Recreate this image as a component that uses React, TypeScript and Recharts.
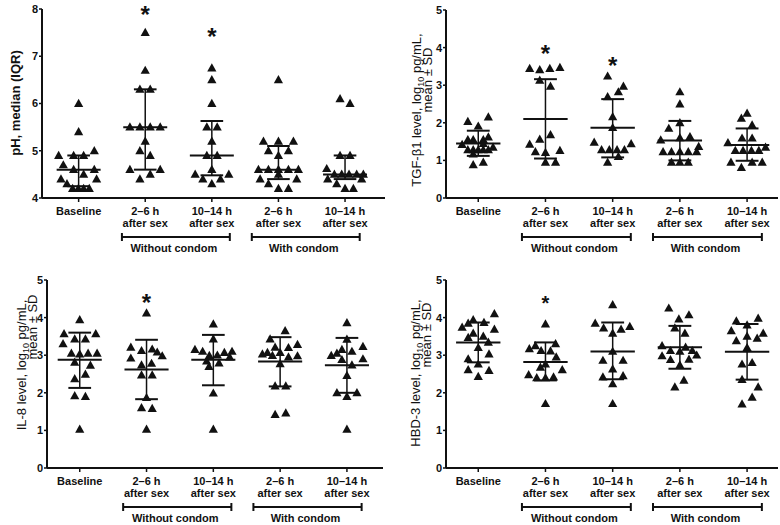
import React from "react";
import {
	ScatterChart,
	Scatter,
	XAxis,
	YAxis,
	ReferenceLine,
	ReferenceDot,
} from "recharts";

type Pt = [number, number]; // [offset inside group, value]
type Summary = [number, number, number]; // centre, low, high

const groupNames = ["Baseline", "2–6 h", "10–14 h", "2–6 h", "10–14 h"];
const groupSub = ["", "after sex", "after sex", "after sex", "after sex"];
const conditionNames = ["Without condom", "With condom"];

// ---- pH, median (IQR)
const phBaseline: Pt[] = [
	[0, 6.0], [0, 5.4], [-0.3, 4.9], [-0.075, 4.9], [0.075, 4.9], [0.235, 5.0],
	[-0.23, 4.7], [-0.075, 4.6], [0.235, 4.6], [0.075, 4.5], [-0.265, 4.4], [0.27, 4.4],
	[-0.175, 4.3], [-0.09, 4.2], [-0.005, 4.2], [0.075, 4.2], [0.16, 4.2],
];
const phNoCondom26: Pt[] = [
	[0, 7.5], [0, 6.7], [-0.08, 6.3], [0.075, 6.3], [-0.23, 5.5], [-0.08, 5.5],
	[0.075, 5.5], [0.225, 5.5], [0, 5.2], [-0.08, 5.0], [0.075, 4.9], [-0.23, 4.6],
	[0.225, 4.6], [0.075, 4.5], [-0.08, 4.4],
];
const phNoCondom1014: Pt[] = [
	[0, 6.75], [0, 6.5], [0, 6.0], [-0.075, 5.5], [0.08, 5.5], [0, 5.2], [-0.075, 4.9],
	[0.08, 4.9], [0, 4.6], [-0.25, 4.5], [0.255, 4.5], [-0.135, 4.4], [0.13, 4.4], [0, 4.3],
];
const phCondom26: Pt[] = [
	[0, 6.5], [-0.225, 5.2], [0, 5.2], [0.225, 5.2], [-0.15, 5.0], [0.15, 5.0], [0, 4.9],
	[-0.3, 4.6], [-0.15, 4.6], [0, 4.6], [0.15, 4.6], [0.3, 4.6], [0, 4.5], [-0.275, 4.4],
	[0.275, 4.4], [-0.15, 4.3], [0, 4.2], [0.15, 4.2],
];
const phCondom1014: Pt[] = [
	[-0.075, 6.1], [0.075, 6.0], [-0.075, 4.9], [0.075, 4.9], [-0.275, 4.62], [-0.16, 4.5],
	[-0.05, 4.5], [0.06, 4.5], [0.175, 4.5], [0.275, 4.5], [-0.26, 4.4], [0.25, 4.4],
	[-0.125, 4.3], [0, 4.2], [0.125, 4.2],
];
const phSummary: Summary[] = [[4.6, 4.25, 4.9], [5.5, 4.6, 6.3], [4.9, 4.48, 5.63], [4.6, 4.4, 5.1], [4.5, 4.4, 4.9]];
const phStars: Pt[] = [[1, 8.0], [2, 7.52]];

// ---- TGF-β1
const tgfBaseline: Pt[] = [
	[0.15, 2.15], [-0.155, 2.03], [0, 1.91], [0.15, 1.62], [-0.155, 1.55], [-0.075, 1.55],
	[0.075, 1.55], [-0.24, 1.42], [0.075, 1.45], [0.22, 1.35], [-0.155, 1.28], [-0.075, 1.28],
	[0, 1.28], [0.075, 1.28], [0.15, 1.28], [-0.075, 1.17], [0.075, 0.95], [-0.075, 0.88],
];
const tgfNoCondom26: Pt[] = [
	[-0.235, 3.44], [-0.085, 3.41], [0.065, 3.44], [0.215, 3.47], [-0.085, 3.13], [0.075, 2.97],
	[0.075, 1.68], [-0.085, 1.56], [-0.235, 1.43], [-0.15, 1.23], [0, 1.21], [0.215, 1.26],
	[0, 0.95], [0.15, 0.95],
];
const tgfNoCondom1014: Pt[] = [
	[-0.075, 3.24], [0.16, 2.97], [0.085, 2.82], [-0.075, 2.69], [0, 2.16], [0, 1.87],
	[-0.275, 1.48], [0.275, 1.44], [-0.165, 1.28], [-0.05, 1.28], [0.065, 1.28], [0.175, 1.28],
	[0.085, 1.1], [-0.075, 0.95],
];
const tgfCondom26: Pt[] = [
	[0, 2.82], [0, 2.5], [0, 2.0], [-0.165, 1.85], [0.15, 1.63], [0, 1.6], [-0.285, 1.54],
	[0.28, 1.37], [-0.25, 1.23], [-0.125, 1.23], [0, 1.23], [0.125, 1.23], [0.25, 1.23],
	[-0.125, 0.95], [0, 0.95], [0.125, 0.95],
];
const tgfCondom1014: Pt[] = [
	[0, 2.25], [-0.085, 2.12], [0.075, 1.94], [-0.075, 1.59], [0.075, 1.59], [-0.285, 1.47],
	[0.275, 1.35], [-0.175, 1.26], [-0.06, 1.26], [0.065, 1.26], [0.175, 1.26], [-0.24, 0.95],
	[0.075, 0.95], [0.225, 0.95], [-0.085, 0.81],
];
const tgfSummary: Summary[] = [[1.45, 1.12, 1.79], [2.1, 1.05, 3.16], [1.87, 1.08, 2.63], [1.53, 1.0, 2.05], [1.41, 0.99, 1.85]];
const tgfStars: Pt[] = [[1, 3.98], [2, 3.67]];

// ---- IL-8
const il8Baseline: Pt[] = [
	[0, 3.94], [-0.235, 3.57], [0.24, 3.57], [-0.075, 3.43], [0.085, 3.43], [-0.25, 3.3],
	[-0.125, 3.05], [0, 3.03], [0.125, 3.05], [0.26, 3.05], [-0.075, 2.81], [0.16, 2.73],
	[0.085, 2.49], [-0.075, 2.37], [-0.075, 1.92], [0.085, 1.9], [0, 1.03],
];
const il8NoCondom26: Pt[] = [
	[0, 4.12], [-0.235, 3.21], [-0.075, 3.12], [0.085, 3.16], [0.16, 3.08], [0.235, 2.98],
	[-0.235, 2.92], [0.075, 2.78], [-0.075, 2.74], [-0.075, 2.47], [0.085, 2.47], [0, 1.87],
	[-0.075, 1.6], [0.085, 1.58], [0, 1.03],
];
const il8NoCondom1014: Pt[] = [
	[0, 3.83], [0, 3.43], [-0.275, 3.15], [-0.16, 3.1], [-0.06, 2.99], [0.06, 3.0],
	[0.165, 3.07], [0.28, 3.1], [0.245, 2.95], [-0.1, 2.84], [-0.065, 2.7], [0.085, 2.79],
	[0, 1.99], [0, 1.03],
];
const il8Condom26: Pt[] = [
	[0.075, 3.65], [-0.15, 3.43], [-0.075, 3.21], [0.125, 3.2], [0.26, 3.28], [-0.265, 3.03],
	[-0.19, 3.07], [-0.115, 2.99], [0, 3.07], [0.125, 2.95], [0.26, 2.98], [0, 2.77],
	[-0.075, 2.18], [0.085, 2.18], [-0.075, 1.42], [0.085, 1.46],
];
const il8Condom1014: Pt[] = [
	[0, 3.86], [0, 3.42], [-0.235, 2.99], [-0.15, 3.05], [-0.075, 3.15], [0.075, 3.1],
	[0.24, 3.23], [-0.075, 2.88], [0.24, 2.9], [0.075, 2.74], [0, 2.46], [-0.15, 2.0],
	[0.15, 2.0], [0, 1.9], [0, 1.03],
];
const il8Summary: Summary[] = [[2.88, 2.13, 3.6], [2.62, 1.83, 3.41], [2.88, 2.2, 3.54], [2.83, 2.17, 3.48], [2.73, 2.0, 3.46]];
const il8Stars: Pt[] = [[1, 4.53]];

// ---- HBD-3
const hbdBaseline: Pt[] = [
	[0.24, 4.1], [-0.075, 3.94], [0.085, 3.87], [-0.15, 3.85], [-0.24, 3.74], [0.24, 3.69],
	[-0.075, 3.58], [-0.15, 3.47], [0.075, 3.5], [0.15, 3.34], [0, 3.2], [0.16, 3.03],
	[-0.15, 2.9], [0, 2.76], [-0.15, 2.61], [0.16, 2.59], [0, 2.43],
];
const hbdNoCondom26: Pt[] = [
	[0, 3.83], [0.15, 3.3], [-0.15, 3.25], [-0.24, 3.17], [-0.065, 3.12], [0.075, 3.11],
	[0.16, 2.95], [0, 2.76], [-0.075, 2.68], [0.25, 2.61], [-0.25, 2.48], [-0.13, 2.4],
	[0, 2.4], [0.12, 2.42], [0, 1.71],
];
const hbdNoCondom1014: Pt[] = [
	[0, 4.34], [-0.26, 3.85], [0.255, 3.76], [-0.135, 3.72], [0.125, 3.69], [0, 3.58],
	[0, 3.1], [-0.145, 2.86], [0.155, 2.86], [0, 2.63], [-0.145, 2.42], [0.155, 2.45],
	[0, 2.24], [0, 1.71],
];
const hbdCondom26: Pt[] = [
	[-0.165, 4.25], [0.135, 4.07], [-0.015, 3.96], [-0.075, 3.72], [0.075, 3.58], [-0.265, 3.25],
	[0.085, 3.21], [-0.14, 3.12], [0, 3.1], [0.185, 3.12], [-0.265, 2.98], [0.25, 3.0],
	[-0.14, 2.88], [0.135, 2.89], [0, 2.74], [0.06, 2.33], [-0.075, 2.15],
];
const hbdCondom1014: Pt[] = [
	[0.165, 3.98], [-0.16, 3.91], [0, 3.8], [-0.235, 3.65], [0.24, 3.58], [0, 3.5],
	[0.15, 3.45], [-0.16, 3.38], [0, 3.2], [-0.075, 2.76], [0.075, 2.8], [-0.075, 2.35],
	[0.165, 2.15], [0.075, 1.88], [-0.075, 1.7],
];
const hbdSummary: Summary[] = [[3.34, 2.81, 3.87], [2.82, 2.33, 3.34], [3.1, 2.36, 3.87], [3.21, 2.64, 3.78], [3.09, 2.35, 3.83]];
const hbdStars: Pt[] = [[1, 4.51]];

const INK = "#111";
const FONT = "'Liberation Sans', Arial, sans-serif";

// small filled triangle, about 9px wide
const Triangle = (props: any) => {
	const { cx, cy } = props;
	if (cx == null || cy == null) return <g />;
	return (
		<path
			d={`M${cx},${cy - 4.8} L${cx + 4.6},${cy + 3.4} L${cx - 4.6},${cy + 3.4} Z`}
			fill={INK}
		/>
	);
};

const XTick = (props: any) => {
	const { x, y, payload } = props;
	const i = Math.round(payload.value);
	return (
		<g>
			<text x={x} y={y + 11} textAnchor="middle" fontSize={11} fontWeight="bold" fill={INK}>
				{groupNames[i]}
			</text>
			{groupSub[i] && (
				<text x={x} y={y + 23} textAnchor="middle" fontSize={11} fontWeight="bold" fill={INK}>
					{groupSub[i]}
				</text>
			)}
		</g>
	);
};

type LabelLine = { x: number; y: number; content: React.ReactNode; bold?: boolean };

const YLabel = ({ lines }: { lines: LabelLine[] }) => (
	<g>
		{lines.map((l, k) => (
			<text
				key={k}
				x={l.x}
				y={l.y + 4.5}
				transform={`rotate(-90 ${l.x} ${l.y})`}
				textAnchor="middle"
				fontSize={13}
				fontWeight={l.bold ? "bold" : "normal"}
				fill={INK}
			>
				{l.content}
			</text>
		))}
	</g>
);

const logLine = (name: string) => (
	<>
		{name} level, log
		<tspan dy={3} fontSize={9}>10</tspan>
		<tspan dy={-3}> pg/mL,</tspan>
	</>
);

interface PanelProps {
	left: number;
	top: number;
	width: number;
	height: number;
	yAxisWidth: number;
	marginTop: number;
	marginRight: number;
	marginBottom: number;
	xDomain: [number, number];
	yDomain: [number, number];
	yTicks: number[];
	groups: Pt[][];
	summary: Summary[];
	stars: Pt[];
	starSize: number;
	label: LabelLine[];
}

const Panel: React.FC<PanelProps> = (p) => {
	const xAxisH = 30;
	const plotH = p.height - p.marginTop - p.marginBottom - xAxisH;
	const [y0, y1] = p.yDomain;
	const perPx = (y1 - y0) / plotH;
	const points = p.groups.flatMap((g, i) => g.map(([dx, v]) => ({ x: i + dx, y: v })));
	const yBracket = y0 - 39 * perPx;
	const yText = y0 - 50 * perPx;
	const capH = 4 * perPx;
	const spans: [number, number][] = [[0.65, 2.27], [2.6, 4.22]];
	const seg = (x1: number, ya: number, x2: number, yb: number, w: number, key: string) => (
		<ReferenceLine
			key={key}
			segment={[{ x: x1, y: ya }, { x: x2, y: yb }]}
			stroke={INK}
			strokeWidth={w}
			ifOverflow="visible"
		/>
	);
	return (
		<div style={{ position: "absolute", left: p.left, top: p.top }}>
			<ScatterChart
				width={p.width}
				height={p.height}
				margin={{ top: p.marginTop, right: p.marginRight, bottom: p.marginBottom, left: 0 }}
			>
				<XAxis
					type="number"
					dataKey="x"
					domain={p.xDomain}
					ticks={[0, 1, 2, 3, 4]}
					height={xAxisH}
					tick={<XTick />}
					tickSize={4}
					axisLine={{ stroke: INK, strokeWidth: 2 }}
					tickLine={{ stroke: INK, strokeWidth: 1.5 }}
				/>
				<YAxis
					type="number"
					dataKey="y"
					domain={p.yDomain}
					ticks={p.yTicks}
					width={p.yAxisWidth}
					tickSize={3}
					tickMargin={1}
					axisLine={{ stroke: INK, strokeWidth: 2 }}
					tickLine={{ stroke: INK, strokeWidth: 1.5 }}
					tick={{ fill: INK, fontSize: 11, fontWeight: "bold" }}
					label={<YLabel lines={p.label} />}
				/>
				{p.summary.map(([c, lo, hi], i) => [
					seg(i - 0.33, c, i + 0.33, c, 2, `c${i}`),
					seg(i, lo, i, hi, 1.5, `v${i}`),
					seg(i - 0.17, lo, i + 0.17, lo, 2, `l${i}`),
					seg(i - 0.17, hi, i + 0.17, hi, 2, `h${i}`),
				])}
				<Scatter data={points} shape={<Triangle />} isAnimationActive={false} />
				{p.stars.map(([i, v], k) => (
					<ReferenceDot
						key={`s${k}`}
						x={i}
						y={v}
						r={0}
						ifOverflow="visible"
						shape={(sp: any) => (
							<text
								x={sp.cx}
								y={sp.cy + p.starSize * 0.57}
								textAnchor="middle"
								fontSize={p.starSize}
								fontWeight="bold"
								fill={INK}
							>
								*
							</text>
						)}
					/>
				))}
				{spans.map(([a, b], k) => [
					seg(a, yBracket, b, yBracket, 2, `b${k}`),
					seg(a, yBracket - capH, a, yBracket + capH, 2, `ba${k}`),
					seg(b, yBracket - capH, b, yBracket + capH, 2, `bb${k}`),
					<ReferenceDot
						key={`t${k}`}
						x={(a + b) / 2 - 0.03}
						y={yText}
						r={0}
						ifOverflow="visible"
						shape={(sp: any) => (
							<text x={sp.cx} y={sp.cy + 4} textAnchor="middle" fontSize={11} fontWeight="bold" fill={INK}>
								{conditionNames[k]}
							</text>
						)}
					/>,
				])}
			</ScatterChart>
		</div>
	);
};

const App: React.FC = () => {
	return (
		<div
			style={{
				position: "absolute",
				left: 0,
				top: 0,
				width: 780,
				height: 525,
				background: "#fff",
				fontFamily: FONT,
				overflow: "hidden",
			}}
		>
			<Panel
				left={0}
				top={0}
				width={390}
				height={262}
				yAxisWidth={42}
				marginTop={9}
				marginRight={5}
				marginBottom={34}
				xDomain={[-0.55, 4.6]}
				yDomain={[4, 8]}
				yTicks={[4, 5, 6, 7, 8]}
				groups={[phBaseline, phNoCondom26, phNoCondom1014, phCondom26, phCondom1014]}
				summary={phSummary}
				stars={phStars}
				starSize={24}
				label={[{ x: 15, y: 103, content: "pH, median (IQR)", bold: true }]}
			/>
			<Panel
				left={390}
				top={0}
				width={390}
				height={262}
				yAxisWidth={56}
				marginTop={10}
				marginRight={2}
				marginBottom={34}
				xDomain={[-0.48, 4.46]}
				yDomain={[0, 5]}
				yTicks={[0, 1, 2, 3, 4, 5]}
				groups={[tgfBaseline, tgfNoCondom26, tgfNoCondom1014, tgfCondom26, tgfCondom1014]}
				summary={tgfSummary}
				stars={tgfStars}
				starSize={24}
				label={[
					{ x: 26, y: 110, content: logLine("TGF-β1") },
					{ x: 37, y: 80, content: "mean ± SD" },
				]}
			/>
			<Panel
				left={0}
				top={262}
				width={390}
				height={263}
				yAxisWidth={47}
				marginTop={18}
				marginRight={7}
				marginBottom={27}
				xDomain={[-0.49, 4.54]}
				yDomain={[0, 5]}
				yTicks={[0, 1, 2, 3, 4, 5]}
				groups={[il8Baseline, il8NoCondom26, il8NoCondom1014, il8Condom26, il8Condom1014]}
				summary={il8Summary}
				stars={il8Stars}
				starSize={24}
				label={[
					{ x: 21, y: 103, content: logLine("IL-8") },
					{ x: 32, y: 65, content: "mean ± SD" },
				]}
			/>
			<Panel
				left={390}
				top={262}
				width={390}
				height={263}
				yAxisWidth={56}
				marginTop={18}
				marginRight={2}
				marginBottom={27}
				xDomain={[-0.48, 4.46]}
				yDomain={[0, 5]}
				yTicks={[0, 1, 2, 3, 4, 5]}
				groups={[hbdBaseline, hbdNoCondom26, hbdNoCondom1014, hbdCondom26, hbdCondom1014]}
				summary={hbdSummary}
				stars={hbdStars}
				starSize={20}
				label={[
					{ x: 25, y: 111, content: logLine("HBD-3") },
					{ x: 36, y: 73, content: "mean ± SD" },
				]}
			/>
		</div>
	);
};

export default App;
